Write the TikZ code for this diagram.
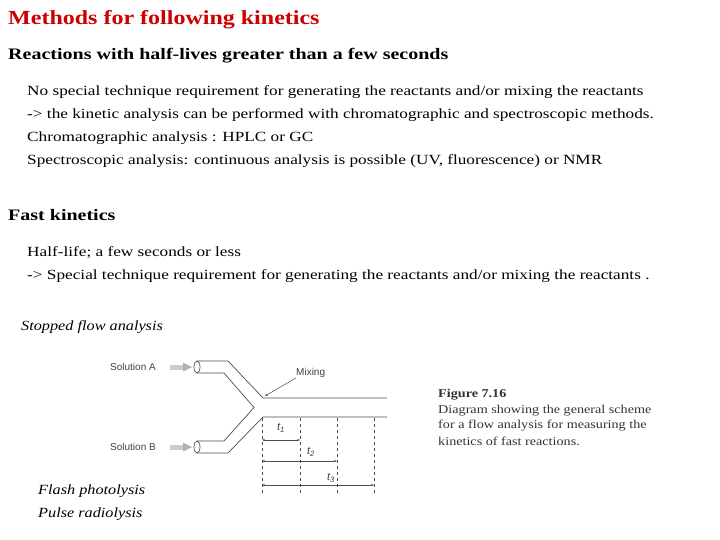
\documentclass[tikz,border=0pt]{standalone}
\usepackage{fontspec}
\setmainfont{Liberation Serif}
\newfontfamily\sansf{Liberation Sans}
\usetikzlibrary{arrows.meta}
\begin{document}
\begin{tikzpicture}[x=1pt,y=-1pt,
  wide/.style={xscale=#1,transform shape},
  txt/.style={anchor=west,inner sep=0pt,font=\fontsize{14}{16}\selectfont,wide=1.23},
  itx/.style={anchor=west,inner sep=0pt,font=\itshape\fontsize{14}{16}\selectfont,wide=1.16},
  fig/.style={inner sep=0pt,font=\sansf\fontsize{10}{12}\selectfont,text=black!75},
  captxt/.style={anchor=west,inner sep=0pt,font=\fontsize{12}{14}\selectfont,text=black!80,wide=1.18},
  tube/.style={draw=black!70,line width=0.7pt},
  dsh/.style={draw=black!70,dashed,line width=0.6pt},
  dim/.style={draw=black!70,line width=0.5pt,{Stealth[length=3pt]}-{Stealth[length=3pt]}}]
\useasboundingbox (0,0) rectangle (720,540);
\node[anchor=west,inner sep=0pt,text=red!80!black,font=\bfseries\fontsize{20}{22}\selectfont,wide=1.2] (title) at (8,20) {Methods for following kinetics};
\node[anchor=west,inner sep=0pt,font=\bfseries\fontsize{16}{18}\selectfont,wide=1.25] (h1) at (8,56) {Reactions with half-lives greater than a few seconds};
\node[txt] (l1) at (27,92) {No special technique requirement for generating the reactants and/or mixing the reactants};
\node[txt] (l2) at (27,115) {-> the kinetic analysis can be performed with chromatographic and spectroscopic methods.};
\node[txt] (l3) at (27,138) {Chromatographic analysis : HPLC or GC};
\node[txt] (l4) at (27,161) {Spectroscopic analysis: continuous analysis is possible (UV, fluorescence) or NMR};
\node[anchor=west,inner sep=0pt,font=\bfseries\fontsize{16}{18}\selectfont,wide=1.25] (h2) at (8,215) {Fast kinetics};
\node[txt] (l5) at (27,253) {Half-life; a few seconds or less};
\node[txt] (l6) at (27,276) {-> Special technique requirement for generating the reactants and/or mixing the reactants .};
\node[itx] (sf) at (21,327) {Stopped flow analysis};
\node[itx] (fp) at (38,491) {Flash photolysis};
\node[itx] (pr) at (38,514) {Pulse radiolysis};
% figure
\node[fig,anchor=west] (sa) at (110,367) {Solution A};
\node[fig,anchor=west] (sb) at (110,447) {Solution B};
\foreach \y in {367,447}{
  \fill[black!20] (170,\y-2.5) rectangle (183,\y+2.5);
  \fill[black!30] (183,\y-4.5) -- (192,\y) -- (183,\y+4.5) -- cycle;
  \draw[tube] (197,\y) ellipse (3 and 6);}
\draw[tube] (197,361) -- (228,361) -- (263,398) -- (387,398);
\draw[tube] (197,373) -- (224,373) -- (254,407.5) -- (224,441) -- (197,441);
\draw[tube] (197,453) -- (228,453) -- (263,417) -- (387,417);
\foreach \x in {262,300,337,374} \draw[dsh] (\x,418) -- (\x,495);
\coordinate (a1) at (262,440); \coordinate (b1) at (300,440);
\coordinate (a2) at (262,461); \coordinate (b2) at (337,461);
\coordinate (a3) at (262,485); \coordinate (b3) at (374,485);
\draw[dim] (a1) -- (b1); \draw[dim] (a2) -- (b2); \draw[dim] (a3) -- (b3);
\node[fig,font=\sansf\itshape\fontsize{11}{12}\selectfont] (t1) at (281,428) {t\textsubscript{1}};
\node[fig,font=\sansf\itshape\fontsize{11}{12}\selectfont] (t2) at (311,452) {t\textsubscript{2}};
\node[fig,font=\sansf\itshape\fontsize{11}{12}\selectfont] (t3) at (331,478) {t\textsubscript{3}};
\node[fig,anchor=west] (mix) at (296,373) {Mixing};
\coordinate (mixend) at (265,396);
\draw[black!70,line width=0.5pt,-{Stealth[length=3pt]}] (mix.south west) -- (mixend);
\node[captxt,font=\bfseries\fontsize{12}{14}\selectfont] (fig) at (438,395) {Figure 7.16};
\node[captxt] (c1) at (438,411) {Diagram showing the general scheme};
\node[captxt] (c2) at (438,426) {for a flow analysis for measuring the};
\node[captxt] (c3) at (438,441) {kinetics of fast reactions.};
\end{tikzpicture}
\end{document}
